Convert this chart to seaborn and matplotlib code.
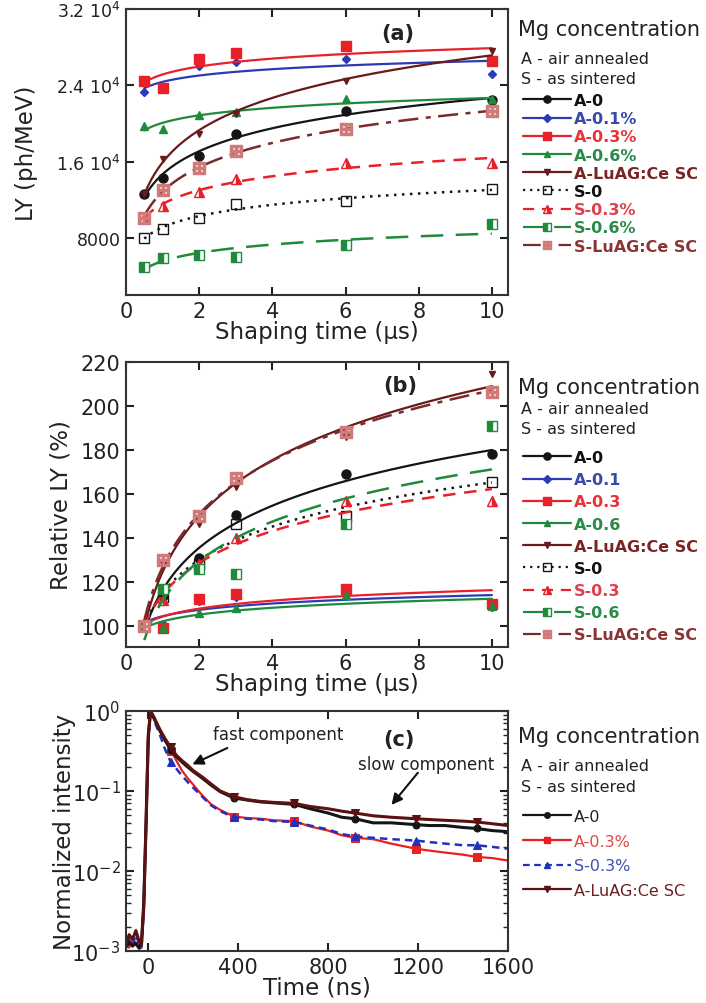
import numpy as np
import matplotlib
matplotlib.use("Agg")
import matplotlib.pyplot as plt
import seaborn as sns
from matplotlib.lines import Line2D
from matplotlib.ticker import FixedLocator, FixedFormatter, LogLocator, NullFormatter

sns.set_theme(style="ticks")
plt.rcParams["font.family"] = ["DejaVu Sans"]
plt.rcParams["mathtext.default"] = "regular"
plt.rcParams["axes.linewidth"] = 1.5

# ---------------- data ----------------
shaping_time = [0.5, 1, 2, 3, 6, 10]

# (a) light yield, ph/MeV
ly_A0 = [12630, 14300, 16560, 18840, 21250, 22500]
ly_A01 = [23250, 23580, 26000, 26400, 26740, 25150]
ly_A03 = [24400, 23750, 26800, 27370, 28140, 26560]
ly_A06 = [19720, 19420, 20900, 21150, 22530, 22530]
ly_ASC = [12630, 16300, 18840, 20950, 24460, 27610]
ly_S0 = [7970, 8950, 10100, 11500, 11820, 13100]
ly_S03 = [10100, 11380, 12800, 14150, 15860, 15870]
ly_S06 = [4980, 5920, 6210, 6000, 7260, 9450]
ly_SSC = [10100, 13050, 15340, 17090, 19370, 21250]

# (b) relative light yield, %
rel_A0 = [100, 113.5, 131, 150.5, 169, 178]
rel_A01 = [100, 101, 111.5, 113, 114.5, 108.5]
rel_A03 = [100, 99, 112.5, 114.5, 117, 110]
rel_A06 = [100, 99, 106, 108, 114, 109]
rel_ASC = [100, 128, 146.5, 163, 186, 214.5]
rel_S0 = [100, 113, 128, 146.5, 150, 165.5]
rel_S03 = [100, 112, 128, 140, 157, 157]
rel_S06 = [100, 117, 126, 123.5, 146.5, 191]
rel_SSC = [100, 130, 150, 167.5, 188, 206.5]

labels_a = ["A-0", "A-0.1%", "A-0.3%", "A-0.6%", "A-LuAG:Ce SC",
            "S-0", "S-0.3%", "S-0.6%", "S-LuAG:Ce SC"]
labels_b = ["A-0", "A-0.1", "A-0.3", "A-0.6", "A-LuAG:Ce SC",
            "S-0", "S-0.3", "S-0.6", "S-LuAG:Ce SC"]

# (c) scintillation decay, normalized intensity
decay_time = [-100, -85, -70, -55, -40, -30, -20, -10, 0, 10, 25, 50, 75, 100,
              125, 150, 175, 200, 240, 280, 320, 380, 440, 500, 560, 650, 720,
              800, 860, 920, 1000, 1080, 1190, 1250, 1320, 1400, 1460, 1530, 1600]
decay_A0 = [1.1e-3, 1.3e-3, 1.15e-3, 1.25e-3, 1.1e-3, 1.3e-3, 4e-3, 0.04, 0.5, 1.0,
            0.82, 0.58, 0.43, 0.33, 0.27, 0.23, 0.2, 0.175, 0.145, 0.118, 0.098,
            0.082, 0.077, 0.073, 0.071, 0.068, 0.060, 0.053, 0.047, 0.045, 0.040,
            0.040, 0.038, 0.037, 0.037, 0.035, 0.034, 0.032, 0.031]
decay_A03 = [1.3e-3, 1.1e-3, 1.5e-3, 1.2e-3, 1.05e-3, 1.2e-3, 3.8e-3, 0.038, 0.48, 1.0,
             0.8, 0.57, 0.42, 0.32, 0.24, 0.18, 0.145, 0.12, 0.088, 0.068, 0.058,
             0.048, 0.046, 0.045, 0.043, 0.042, 0.036, 0.032, 0.028, 0.026, 0.025,
             0.022, 0.019, 0.018, 0.017, 0.016, 0.015, 0.0145, 0.0135]
decay_S03 = [1.2e-3, 1.4e-3, 1.2e-3, 1.6e-3, 1.2e-3, 1.1e-3, 3.6e-3, 0.036, 0.46, 1.0,
             0.78, 0.52, 0.33, 0.23, 0.19, 0.155, 0.13, 0.11, 0.085, 0.066, 0.056,
             0.047, 0.045, 0.044, 0.042, 0.041, 0.037, 0.033, 0.029, 0.027, 0.026,
             0.025, 0.024, 0.023, 0.022, 0.021, 0.021, 0.020, 0.019]
decay_ASC = [1.2e-3, 1.6e-3, 1.4e-3, 1.8e-3, 1.3e-3, 1.2e-3, 3.5e-3, 0.035, 0.45, 1.0,
             0.84, 0.6, 0.45, 0.35, 0.28, 0.24, 0.21, 0.18, 0.15, 0.122, 0.10,
             0.085, 0.078, 0.074, 0.072, 0.070, 0.064, 0.060, 0.056, 0.053, 0.049,
             0.047, 0.045, 0.044, 0.043, 0.042, 0.041, 0.039, 0.037]
labels_c = ["A-0", "A-0.3%", "S-0.3%", "A-LuAG:Ce SC"]

# ---------------- styles ----------------
BLACK, BLUE, RED, GREEN, BROWN = "#151515", "#2b3bb5", "#e8202a", "#1f8a3c", "#6a1a1a"
styles_ab = [
    dict(color=BLACK, tc="#111111", ls="-", marker="o", ms=6.5, fs="full", mfc=BLACK, alt=BLACK),
    dict(color=BLUE, tc="#3a48a8", ls="-", marker="D", ms=4.5, fs="full", mfc=BLUE, alt=BLUE),
    dict(color=RED, tc="#e8333a", ls="-", marker="s", ms=7, fs="full", mfc=RED, alt=RED),
    dict(color=GREEN, tc="#2a8a48", ls="-", marker="^", ms=6, fs="full", mfc=GREEN, alt=GREEN),
    dict(color=BROWN, tc="#7a2525", ls="-", marker="v", ms=5, fs="full", mfc=BROWN, alt=BROWN),
    dict(color=BLACK, tc="#111111", ls=(0, (1, 2.2)), marker="s", ms=7, fs="none", mfc="white", alt="white"),
    dict(color=RED, tc="#e0404e", ls=(0, (5, 3.5)), marker="^", ms=6.5, fs="right", mfc=RED, alt="white"),
    dict(color=GREEN, tc="#2a8a48", ls=(0, (9, 5)), marker="s", ms=6.5, fs="left", mfc=GREEN, alt="white"),
    dict(color="#7a2a2a", tc="#8a3535", ls=(0, (8, 3, 2, 3)), marker="$\\boxplus$", ms=8, fs="full",
         mfc="#d07a7a", alt="#d07a7a", mec="#d07a7a"),
]

W, H = 706, 1004
fig = plt.figure(figsize=(W / 100, H / 100), dpi=100)


def axes_px(left, top, right, bottom):
    return fig.add_axes([left / W, 1 - bottom / H, (right - left) / W, (bottom - top) / H])


ax_a = axes_px(126, 10, 508, 296)
ax_b = axes_px(126, 363, 508, 648)
ax_c = axes_px(126, 712, 508, 952)

TICK_FS = 15
LABEL_FS = 16.5
TXT = "#222222"


def style_axes(ax):
    ax.tick_params(direction="in", top=True, right=True, bottom=True, left=True,
                   length=6, width=1.5, labelsize=TICK_FS, colors=TXT, pad=4)
    for s in ax.spines.values():
        s.set_linewidth(1.5)
        s.set_color("#333333")


def draw_panel(ax, series, labels):
    for y, lab, st in zip(series, labels, styles_ab):
        sns.regplot(x=shaping_time, y=y, ax=ax, logx=True, scatter=False, ci=None,
                    truncate=True, color=st["color"],
                    line_kws=dict(lw=1.6 if st["ls"] == "-" else 1.8, ls=st["ls"]))
        ax.plot(shaping_time, y, ls="none", marker=st["marker"], ms=st["ms"],
                fillstyle=st["fs"], markerfacecolor=st["mfc"], markerfacecoloralt=st["alt"],
                markeredgecolor=st.get("mec", st["color"]), markeredgewidth=1.0)


def legend_handles(labels, styles):
    hs = []
    for lab, st in zip(labels, styles):
        hs.append(Line2D([], [], color=st["color"], ls=st["ls"], lw=1.6, marker=st["marker"],
                         ms=st["ms"] * 0.8, fillstyle=st["fs"], markerfacecolor=st["mfc"],
                         markerfacecoloralt=st["alt"],
                         markeredgecolor=st.get("mec", st["color"]), label=lab))
    return hs


def legend_block(ax, labels, styles, top_px, ys, spacing, bold=True, fs=11.5):
    fig.text(518 / W, 1 - ys[0] / H, "Mg concentration", fontsize=15, color=TXT, va="center")
    fig.text(521 / W, 1 - ys[1] / H, "A - air annealed", fontsize=11.5, color=TXT, va="center")
    fig.text(521 / W, 1 - ys[2] / H, "S - as sintered", fontsize=11.5, color=TXT, va="center")
    leg = ax.legend(handles=legend_handles(labels, styles), loc="upper left",
                    bbox_to_anchor=(523 / W, 1 - top_px / H), bbox_transform=fig.transFigure,
                    frameon=False, borderpad=0, borderaxespad=0, handlelength=3.0,
                    handletextpad=0.2, labelspacing=spacing,
                    prop=dict(size=fs, weight="bold" if bold else "normal"))
    for t, st in zip(leg.get_texts(), styles):
        t.set_color(st["tc"])
    return leg


# ---------------- panel (a) ----------------
ly_series = [ly_A0, ly_A01, ly_A03, ly_A06, ly_ASC, ly_S0, ly_S03, ly_S06, ly_SSC]
draw_panel(ax_a, ly_series, labels_a)
ax_a.set_xlim(0, 10.44)
ax_a.set_ylim(2000, 32000)
ax_a.xaxis.set_major_locator(FixedLocator([0, 2, 4, 6, 8, 10]))
ax_a.yaxis.set_major_locator(FixedLocator([8000, 16000, 24000, 32000]))
ax_a.yaxis.set_major_formatter(FixedFormatter(["8000", "1.6 10$^4$", "2.4 10$^4$", "3.2 10$^4$"]))
style_axes(ax_a)
ax_a.tick_params(axis="y", labelsize=12.5)
ax_a.set_xlabel("Shaping time (\u03bcs)", fontsize=LABEL_FS, color=TXT)
ax_a.set_ylabel("LY (ph/MeV)", fontsize=LABEL_FS, color=TXT)
ax_a.yaxis.set_label_coords(-0.23, 0.5)
ax_a.xaxis.set_label_coords(0.5, -0.088)
ax_a.text(7.43, 29470, "(a)", fontsize=15, fontweight="bold", color=TXT, ha="center", va="center")
legend_block(ax_a, labels_a, styles_ab, 94, [30, 60, 80], 0.2)

# ---------------- panel (b) ----------------
rel_series = [rel_A0, rel_A01, rel_A03, rel_A06, rel_ASC, rel_S0, rel_S03, rel_S06, rel_SSC]
draw_panel(ax_b, rel_series, labels_b)
ax_b.set_xlim(0, 10.44)
ax_b.set_ylim(90.5, 220)
ax_b.xaxis.set_major_locator(FixedLocator([0, 2, 4, 6, 8, 10]))
ax_b.yaxis.set_major_locator(FixedLocator([100, 120, 140, 160, 180, 200, 220]))
style_axes(ax_b)
ax_b.set_xlabel("Shaping time (\u03bcs)", fontsize=LABEL_FS, color=TXT)
ax_b.set_ylabel("Relative LY (%)", fontsize=LABEL_FS, color=TXT)
ax_b.yaxis.set_label_coords(-0.139, 0.5)
ax_b.xaxis.set_label_coords(0.5, -0.088)
ax_b.text(7.49, 209.7, "(b)", fontsize=15, fontweight="bold", color=TXT, ha="center", va="center")
legend_block(ax_b, labels_b, styles_ab, 451, [388, 410, 430], 0.45)

# ---------------- panel (c) ----------------
styles_c = [
    dict(color=BLACK, tc="#222222", ls="-", lw=2.2, marker="o", ms=5, fs="full", mfc=BLACK, alt=BLACK),
    dict(color="#e82020", tc="#e04848", ls="-", lw=1.6, marker="s", ms=6, fs="full", mfc="#e82020", alt="#e82020"),
    dict(color="#2030c0", tc="#4050b0", ls=(0, (3, 2)), lw=1.8, marker="^", ms=6, fs="full", mfc="#2030c0", alt="#2030c0"),
    dict(color="#5a1212", tc="#6a2020", ls="-", lw=2.2, marker="v", ms=6, fs="full", mfc="#5a1212", alt="#5a1212"),
]
mark_idx = [13, 21, 25, 29, 32, 36]
for y, st in zip([decay_A03, decay_S03, decay_A0, decay_ASC],
                 [styles_c[1], styles_c[2], styles_c[0], styles_c[3]]):
    sns.lineplot(x=decay_time, y=y, ax=ax_c, color=st["color"], lw=st["lw"], ls=st["ls"],
                 marker=st["marker"], ms=st["ms"], markevery=mark_idx, mfc=st["mfc"],
                 mec=st["color"], estimator=None, sort=False)
ax_c.set_yscale("log")
ax_c.set_ylim(1e-3, 1)
ax_c.set_xlim(-99, 1600)
ax_c.xaxis.set_major_locator(FixedLocator([0, 400, 800, 1200, 1600]))
ax_c.yaxis.set_major_locator(LogLocator(base=10, numticks=10))
ax_c.yaxis.set_minor_locator(LogLocator(base=10, subs=np.arange(2, 10), numticks=20))
ax_c.yaxis.set_minor_formatter(NullFormatter())
style_axes(ax_c)
ax_c.tick_params(axis="y", which="minor", direction="in", left=True, right=True, length=3.5, width=1.0)
ax_c.set_xlabel("Time (ns)", fontsize=LABEL_FS, color=TXT)
ax_c.set_ylabel("Normalized intensity", fontsize=LABEL_FS, color=TXT)
ax_c.yaxis.set_label_coords(-0.131, 0.5)
ax_c.xaxis.set_label_coords(0.5, -0.104)
ax_c.text(577, 0.52, "fast component", fontsize=12, color=TXT, ha="center", va="center")
ax_c.annotate("", xy=(185, 0.208), xytext=(363, 0.357),
              arrowprops=dict(arrowstyle="-|>", color="#111111", lw=1.5, mutation_scale=16))
ax_c.text(1114, 0.45, "(c)", fontsize=15, fontweight="bold", color=TXT, ha="center", va="center")
ax_c.text(1234, 0.22, "slow component", fontsize=12, color=TXT, ha="center", va="center")
ax_c.annotate("", xy=(1074, 0.063), xytext=(1207, 0.18),
              arrowprops=dict(arrowstyle="-|>", color="#111111", lw=1.5, mutation_scale=16))
legend_block(ax_c, labels_c, styles_c, 810, [737, 767, 788], 0.6, bold=False, fs=11.5)

fig.savefig("out.png", dpi=100)
